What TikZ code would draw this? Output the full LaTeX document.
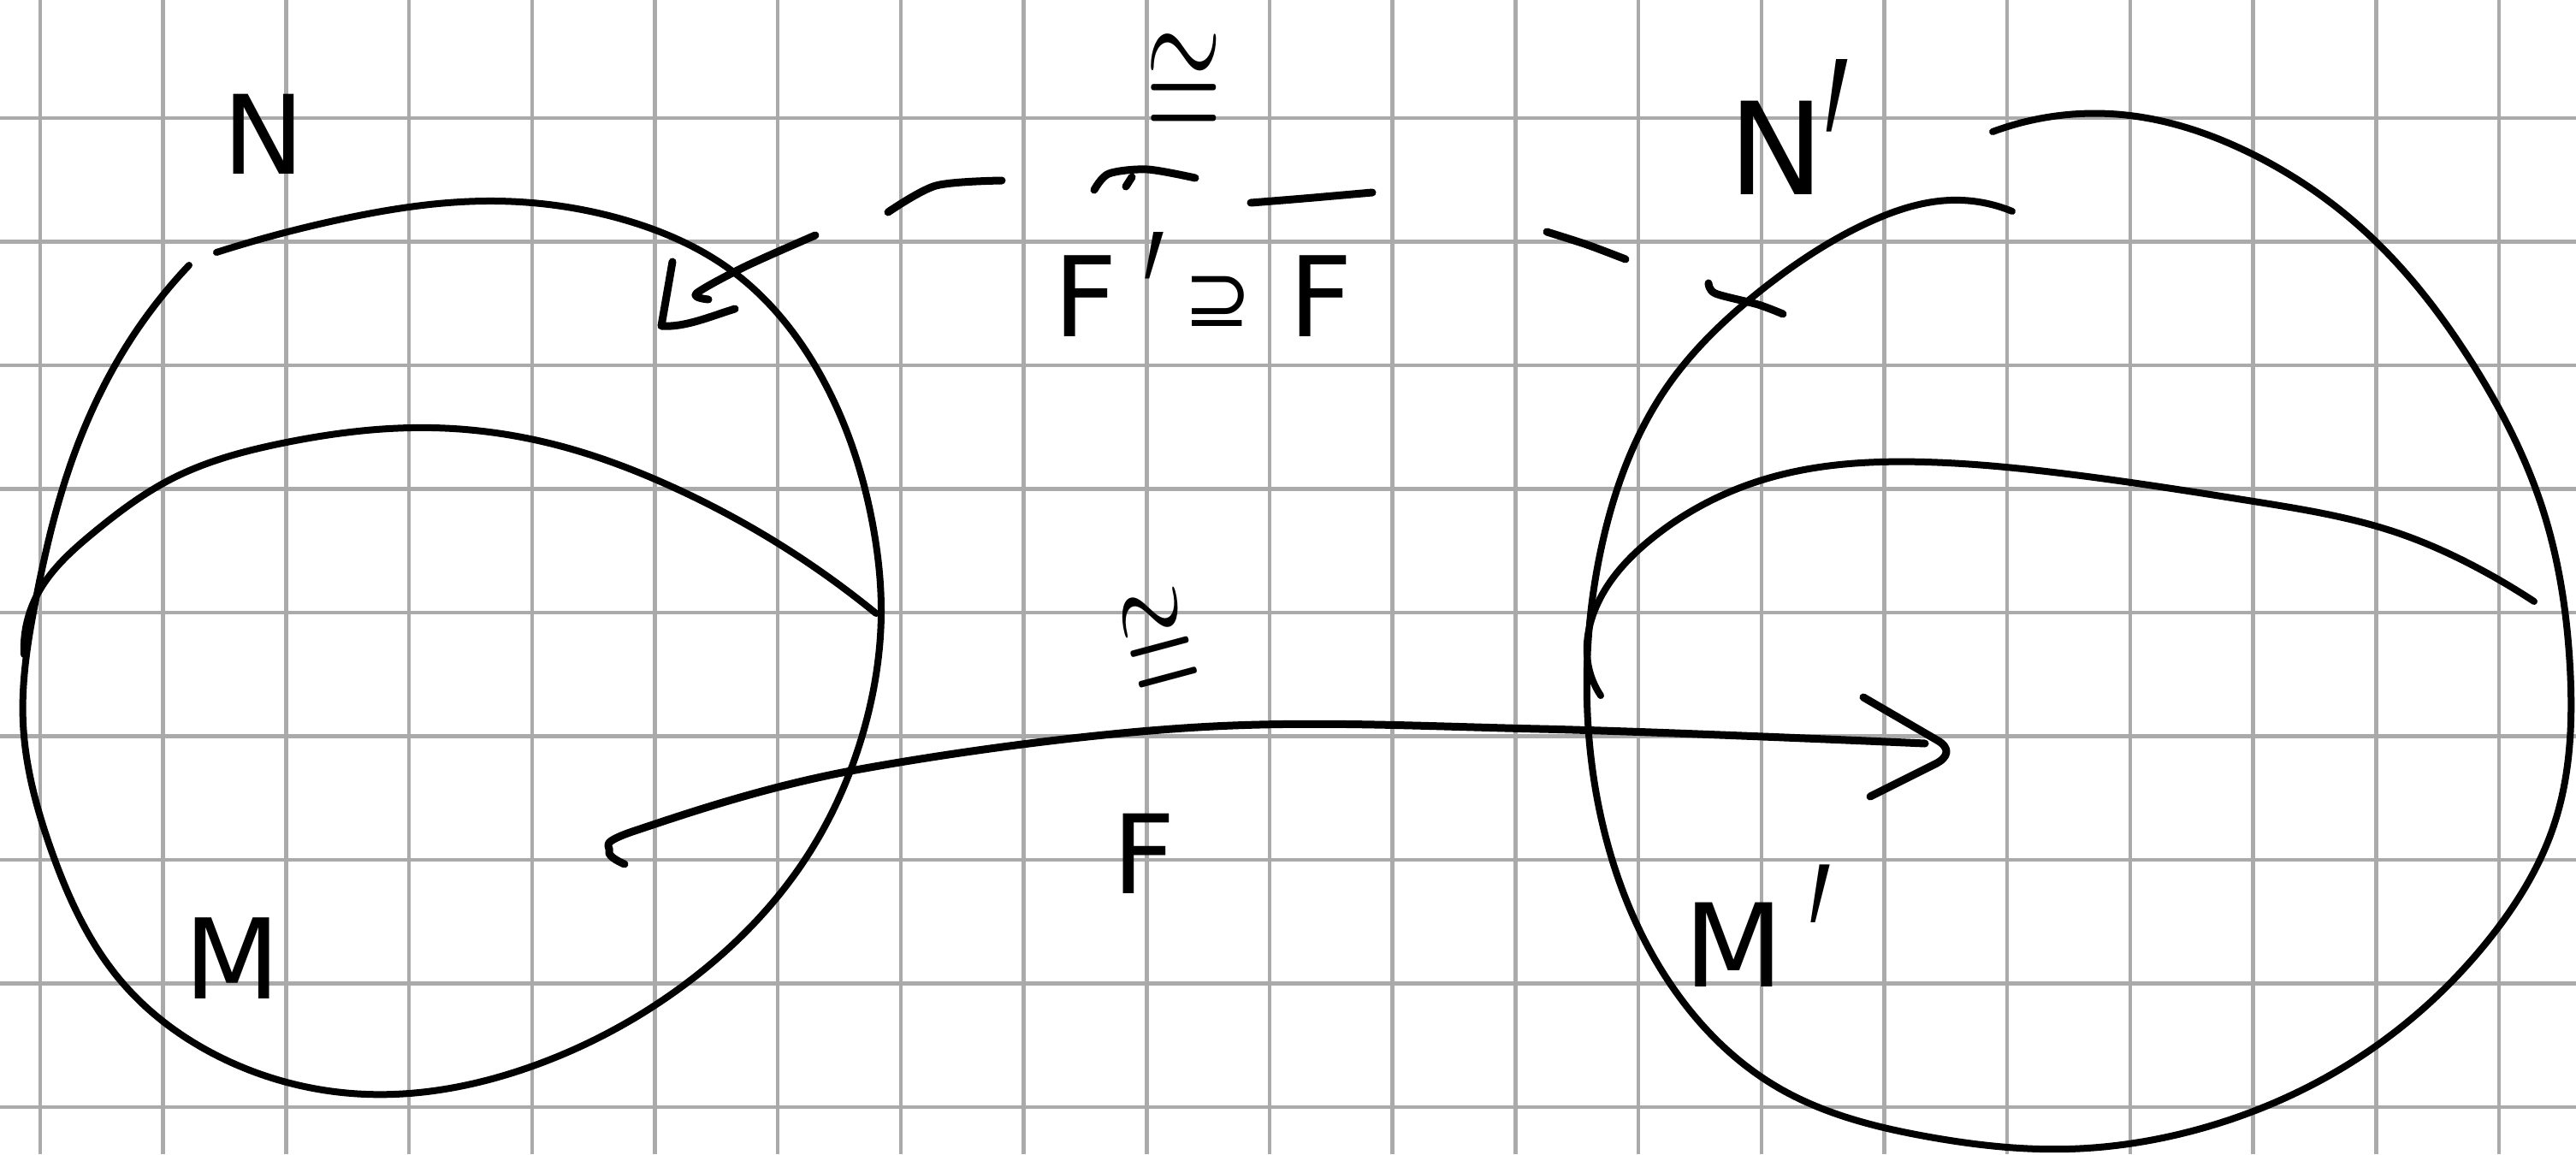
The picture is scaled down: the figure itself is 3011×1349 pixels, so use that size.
\documentclass[tikz,border=0pt]{standalone}
\usepackage{graphicx}
\usepackage{fontspec}
\setmainfont{DejaVu Sans}
\usetikzlibrary{hobby}
\definecolor{gridgray}{RGB}{170,170,170}
\newcommand\hprime[2]{\smash{\raisebox{#1}{\scalebox{0.9}[#2]{′}}}}
\begin{document}
\begin{tikzpicture}[x=1pt,y=-1pt,
  ink/.style={line width=8pt,line cap=round,line join=round},
  heavy/.style={line width=9pt,line cap=round,line join=round},
  gridline/.style={draw=gridgray,line width=4.5pt},
  lbl/.style={inner sep=0pt,outer sep=0pt}]
\useasboundingbox (0,0) rectangle (3011,1349);
\fill[white] (0,0) rectangle (3011,1349);
\foreach \k in {0,...,20} \draw[gridline] ({47+143.7*\k},0) -- ({47+143.7*\k},1349);
\foreach \j in {0,...,8} \draw[gridline] (0,{138+144.5*\j}) -- (3011,{138+144.5*\j});

% left manifold M with submanifold N
\draw[ink,use Hobby shortcut] (253,295) .. (400,256) .. (568,235) .. (730,257) .. (856,317) .. (961,442) .. (1021,618) .. (1030,713) .. (1012,845) .. (940,1006) .. (800,1151) .. (620,1247) .. (428,1279) .. (260,1237) .. (140,1145) .. (60,994) .. (27,845) .. (42,700) .. (77,559) .. (150,401) .. (221,310);
\draw[ink,use Hobby shortcut] (28,765) .. (42,698) .. (110,622) .. (200,560) .. (330,518) .. (505,500) .. (650,520) .. (779,566) .. (1024,717);

% right manifold M' with submanifold N'
\draw[ink,use Hobby shortcut] (2329,154) .. (2480,134) .. (2620,174) .. (2765,271) .. (2890,425) .. (2972,595) .. (3004,780) .. (2985,965) .. (2910,1097) .. (2765,1231) .. (2580,1317) .. (2418,1343) .. (2250,1328) .. (2078,1271) .. (1960,1161) .. (1880,990) .. (1855,820) .. (1874,630) .. (1950,450) .. (2060,338) .. (2186,259) .. (2280,234) .. (2352,247);
\draw[ink,use Hobby shortcut] (1871,813) .. (1857,780) .. (1870,700) .. (1930,630) .. (2070,558) .. (2250,540) .. (2400,552) .. (2634,586) .. (2800,622) .. (2900,666) .. (2962,703);

% labels
\node[lbl,font=\fontsize{128}{128}\selectfont] (N) at (308,157) {N};
\node[lbl,font=\fontsize{130}{130}\selectfont] (M) at (272,1120) {M};
\node[lbl,font=\fontsize{150}{150}\selectfont,anchor=base west] (Np) at (2020,227) {N\hprime{-181pt}{3.1}};
\node[lbl,font=\fontsize{135}{135}\selectfont,anchor=base west] (Mp) at (1968,1153) {M\kern30pt\hprime{-128pt}{2.75}};
\node[lbl,font=\fontsize{128}{128}\selectfont] (F) at (1337,998) {F};
\node[lbl,rotate=15] (iso1) at (1356,757) {\scalebox{10.5}[19]{$\cong$}};
\node[lbl,anchor=base] (iso2) at (1384,157) {\smash{\scalebox{11.4}[18.5]{$\cong$}}};
\node[lbl,font=\fontsize{130}{130}\selectfont,anchor=base west] (FF) at (1231,393) {F\kern31pt\hprime{-96pt}{2.3}\kern20pt\raisebox{12pt}{\fontsize{95}{95}\selectfont ⊇}\kern44pt F};

% solid arrow F : M -> M'
\coordinate (Fs) at (730,1010);
\coordinate (Fe) at (2250,869);
\draw[heavy] plot[smooth,tension=0.6] coordinates {(Fs) (712,995) (745,970) (1000,900) (1400,850) (1800,852) (Fe)};
\draw[heavy] (2178,815) -- (2264,865) .. controls (2280,874) and (2278,885) .. (2262,893) -- (2186,931);

% dashed arrow F' : N' -> N
\coordinate (Ds) at (2084,367);
\coordinate (De) at (773,381);
\draw[heavy] plot[smooth] coordinates {(1997,331) (2005,343) (2055,356) (Ds)};
\draw[heavy] plot[smooth] coordinates {(1808,271) (1855,286) (1900,303)};
\draw[heavy] plot[smooth] coordinates {(1462,237) (1524,232) (1604,225)};
\draw[heavy] plot[smooth] coordinates {(1279,222) (1296,203) (1341,198) (1397,208)};
\draw[heavy] plot[smooth] coordinates {(1316,218) (1323,207)};
\draw[heavy] plot[smooth] coordinates {(1038,248) (1094,217) (1171,211)};
\draw[heavy] plot[smooth] coordinates {(953,275) (870,312) (814,343) (828,350)};
\draw[heavy] (786,306) -- (De) .. controls (800,383) and (830,370) .. (859,361);
\end{tikzpicture}
\end{document}
